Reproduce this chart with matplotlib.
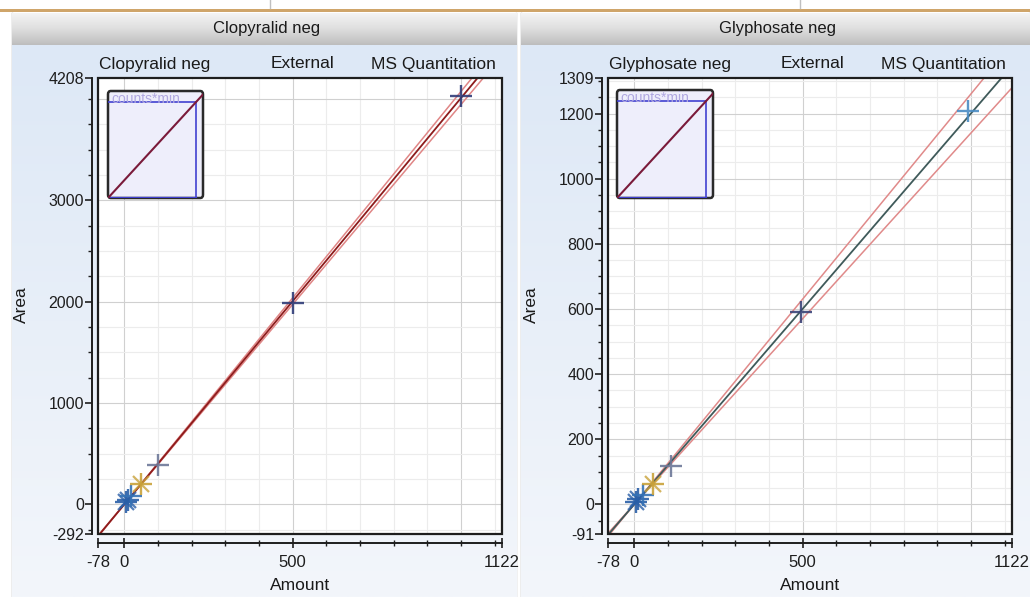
import numpy as np
import matplotlib
matplotlib.use("Agg")
import matplotlib.pyplot as plt
from matplotlib.patches import Rectangle, FancyBboxPatch
from matplotlib.colors import LinearSegmentedColormap
from matplotlib.ticker import FixedLocator, MultipleLocator

plt.rcParams['font.family'] = ['Liberation Sans', 'DejaVu Sans']

# ---------------- data ----------------
titles = ["Clopyralid neg", "Glyphosate neg"]
sub_mid = "External"
sub_right = "MS Quantitation"

clop_amount = [5, 10, 20, 50, 100, 500, 1000]
clop_area = [20, 40, 85, 205, 390, 1985, 4030]
gly_amount = [6, 12, 25, 55, 110, 495, 990]
gly_area = [8, 16, 30, 62, 118, 590, 1208]

point_colors_clop = ['#2a5fa8', '#2a5fa8', '#3572b5', '#c9a23a', '#6d7898', '#2f3c78', '#2f3c78']
point_colors_gly = ['#2a5fa8', '#2a5fa8', '#3572b5', '#c9a23a', '#6d7898', '#3a4478', '#4a8cc4']
star_points = [True, True, False, True, False, False, False]

clop_slope, clop_icpt, clop_band = 4.01, 0.0, 0.016
gly_slope, gly_icpt, gly_band = 1.2, 0.0, 0.05

clop_xlim = (-78, 1122)
clop_ylim = (-292, 4208)
gly_xlim = (-78, 1122)
gly_ylim = (-91, 1309)

clop_yticks = [-292, 0, 1000, 2000, 3000, 4208]
gly_yticks = [-91, 0, 200, 400, 600, 800, 1000, 1200, 1309]
xticks = [-78, 0, 500, 1122]

clop_ygrid_major, clop_ygrid_minor = 1000, 250
gly_ygrid_major, gly_ygrid_minor = 200, 50

line_colors = [('#8e1c1c', '#e08686'), ('#3f5a5a', '#e08a8a')]

# ---------------- figure ----------------
W, H = 1030, 597
fig = plt.figure(figsize=(W / 100, H / 100), dpi=100)
fig.patch.set_facecolor('white')


def px_axes(x0, y0, x1, y1, **kw):
    return fig.add_axes([x0 / W, 1 - y1 / H, (x1 - x0) / W, (y1 - y0) / H], **kw)


def ftext(x, y, s, **kw):
    fig.text(x / W, 1 - y / H, s, **kw)


bg = px_axes(0, 0, W, H)
bg.set_xlim(0, W)
bg.set_ylim(H, 0)
bg.axis('off')
bg.add_patch(Rectangle((0, 9), W, 2.5, color='#cfa56a', lw=0))
bg.plot([270, 270], [0, 8], color='#c0c0c0', lw=1)
bg.plot([800, 800], [0, 8], color='#c0c0c0', lw=1)

panels = [
    dict(x0=12, x1=517, plot=(98, 78, 502, 534), inset=(108, 91, 203, 198),
         amount=clop_amount, area=clop_area, colors=point_colors_clop,
         slope=clop_slope, icpt=clop_icpt, band=clop_band,
         xlim=clop_xlim, ylim=clop_ylim, yticks=clop_yticks,
         ygm=clop_ygrid_major, ygn=clop_ygrid_minor, title=titles[0], lc=line_colors[0]),
    dict(x0=521, x1=1030, plot=(608, 78, 1012, 534), inset=(617, 90, 713, 198),
         amount=gly_amount, area=gly_area, colors=point_colors_gly,
         slope=gly_slope, icpt=gly_icpt, band=gly_band,
         xlim=gly_xlim, ylim=gly_ylim, yticks=gly_yticks,
         ygm=gly_ygrid_major, ygn=gly_ygrid_minor, title=titles[1], lc=line_colors[1]),
]

grad = np.linspace(0, 1, 256).reshape(-1, 1)
cm_bg = LinearSegmentedColormap.from_list('bgp', ['#dde8f6', '#f3f6fb'])
cm_h = LinearSegmentedColormap.from_list('hd', ['#f4f4f4', '#dedede', '#bdbdbd'])

for p in panels:
    x0, x1 = p['x0'], p['x1']
    pb = px_axes(x0, 45, x1, H)
    pb.imshow(grad, aspect='auto', cmap=cm_bg, extent=(0, 1, 1, 0))
    pb.axis('off')
    hb = px_axes(x0, 13, x1, 45)
    hb.imshow(grad, aspect='auto', cmap=cm_h, extent=(0, 1, 1, 0))
    hb.axis('off')
    bg.plot([x0, x0], [13, H], color='#a8a8a8', lw=1)
    bg.plot([x1 - 1, x1 - 1], [13, H], color='#b8b8b8', lw=1)
    ftext((x0 + x1) / 2 + 2, 29, p['title'], ha='center', va='center', fontsize=12, color='#1a1a1a')

    px0, py0, px1, py1 = p['plot']
    ftext(px0 + 1, 64, p['title'], ha='left', va='center', fontsize=12.5, color='#1a1a1a')
    ftext((px0 + px1) / 2 + 2, 64, sub_mid, ha='center', va='center', fontsize=12.5, color='#1a1a1a')
    ftext(px1 - 6, 64, sub_right, ha='right', va='center', fontsize=12.5, color='#1a1a1a')

    ax = px_axes(px0, py0, px1, py1)
    ax.set_facecolor('white')
    ax.set_xlim(*p['xlim'])
    ax.set_ylim(*p['ylim'])

    xmin, xmax = p['xlim']
    ymin, ymax = p['ylim']
    for gx in np.arange(100, xmax, 100):
        major = gx % 500 == 0
        ax.axvline(gx, color='#d0d0d0' if major else '#ececec', lw=0.8, zorder=0)
    ax.axvline(0, color='#d0d0d0', lw=0.8, zorder=0)
    for gy in np.arange(0, ymax, p['ygn']):
        major = gy % p['ygm'] == 0
        ax.axhline(gy, color='#d0d0d0' if major else '#ececec', lw=0.8, zorder=0)
    for gy in np.arange(-p['ygn'], ymin, -p['ygn']):
        ax.axhline(gy, color='#ececec', lw=0.8, zorder=0)

    xs = np.linspace(xmin, xmax, 200)
    yc = p['slope'] * xs + p['icpt']
    ax.plot(xs, yc * (1 + p['band']), color=p['lc'][1], lw=1.1, zorder=2)
    ax.plot(xs, yc * (1 - p['band']), color=p['lc'][1], lw=1.1, zorder=2)
    ax.plot(xs, yc, color=p['lc'][0], lw=1.3, zorder=3)

    for a, r, c, st in zip(p['amount'], p['area'], p['colors'], star_points):
        ax.plot(a, r, marker='+', color=c, ms=16, mew=1.7, ls='none', zorder=4, alpha=0.9)
        if st:
            ax.plot(a, r, marker='x', color=c, ms=11, mew=1.6, ls='none', zorder=4, alpha=0.8)

    for s in ['top', 'right']:
        ax.spines[s].set_visible(False)
    ax.add_patch(Rectangle((0, 0), 1, 1, transform=ax.transAxes, fill=False,
                           ec='#1e1e1e', lw=1.6, clip_on=False, zorder=6))
    ax.spines['left'].set_position(('outward', 4))
    ax.spines['bottom'].set_position(('outward', 6.5))
    for s in ['left', 'bottom']:
        ax.spines[s].set_linewidth(1.4)
        ax.spines[s].set_color('#1e1e1e')

    ax.yaxis.set_major_locator(FixedLocator(p['yticks']))
    ax.yaxis.set_minor_locator(MultipleLocator(p['ygn']))
    ax.xaxis.set_major_locator(FixedLocator(xticks))
    ax.xaxis.set_minor_locator(MultipleLocator(100))
    ax.set_yticklabels([str(v) for v in p['yticks']])
    ax.set_xticklabels([str(v) for v in xticks])
    ax.tick_params(axis='y', which='major', direction='out', length=5, width=1.2, labelsize=11.5,
                   colors='#1e1e1e', pad=1)
    ax.tick_params(axis='y', which='minor', direction='out', length=3, width=1.0, colors='#1e1e1e')
    ax.tick_params(axis='x', which='major', direction='inout', length=7, width=1.2, labelsize=12,
                   colors='#1e1e1e', pad=5)
    ax.tick_params(axis='x', which='minor', direction='inout', length=5, width=1.0, colors='#1e1e1e')

    ftext((px0 + px1) / 2, 586, "Amount", ha='center', va='center', fontsize=12.5, color='#1a1a1a')
    ftext(px0 - 77, 305, "Area", ha='center', va='center', fontsize=12.5, rotation=90, color='#1a1a1a')

    ix0, iy0, ix1, iy1 = p['inset']
    ins = px_axes(ix0, iy0, ix1, iy1)
    ins.set_zorder(10)
    ins.patch.set_alpha(0)
    ins.axis('off')
    ins.add_patch(FancyBboxPatch((0, 0), 1, 1, transform=ins.transAxes,
                                 boxstyle='round,pad=0,rounding_size=0.03',
                                 fc='#eeeefb', ec='#2a2a2a', lw=1.8, zorder=1, clip_on=False))
    amax = max(p['amount'])
    rmax = p['slope'] * amax + p['icpt']
    ins.set_xlim(0, amax / 0.93)
    ins.set_ylim(0, rmax / 0.90)
    ins.plot([0, amax], [rmax, rmax], color='#4040d0', lw=1.2, zorder=2)
    ins.plot([amax, amax], [0, rmax], color='#4040d0', lw=1.2, zorder=2)
    ins.plot([0, amax], [0, 0], color='#4040d0', lw=1.6, zorder=2)
    tx = np.linspace(0, amax / 0.93, 50)
    ins.plot(tx, p['slope'] * tx + p['icpt'], color='#7a1a3a', lw=1.5, zorder=3)
    ins.text(0.04, 0.99, "counts*min", transform=ins.transAxes, fontsize=10,
             color='#b0a8e0', va='top', ha='left', clip_on=True, zorder=2)

fig.savefig("out.png", dpi=100)
